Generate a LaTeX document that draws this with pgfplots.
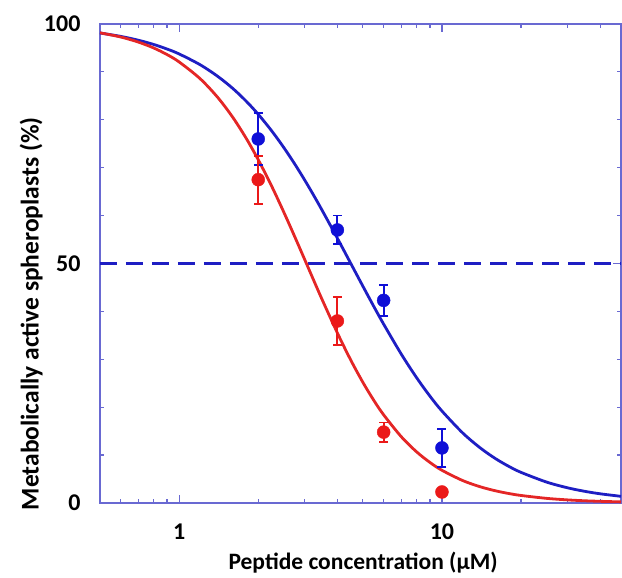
\documentclass[border=0pt]{standalone}
\usepackage{fontspec}
\setmainfont{Carlito}
\usepackage{pgfplots}
\pgfplotsset{compat=1.18}
\definecolor{axblue}{RGB}{105,105,210}
\definecolor{cblue}{RGB}{30,30,195}
\definecolor{cred}{RGB}{228,38,38}
\definecolor{pblue}{RGB}{15,15,215}
\definecolor{pred}{RGB}{235,25,25}
\begin{document}
\begin{tikzpicture}
\useasboundingbox (-100pt,-75pt) rectangle (522pt,503pt);
\begin{axis}[
  at={(0pt,0pt)}, anchor=south west, scale only axis,
  width=521pt, height=479pt,
  xmode=log, xmin=0.5, xmax=48, ymin=0, ymax=100,
  axis line style={axblue, line width=1.6pt},
  xtick={1,10}, xticklabels={1,10},
  minor xtick={0.6,0.7,0.8,0.9,2,3,4,5,6,7,8,9,20,30,40},
  ytick={0,50,100},
  minor ytick={10,20,30,40,60,70,80,90},
  tick style={axblue, line width=1.2pt},
  major tick length=8pt, minor tick length=4pt,
  tick align=inside,
  /pgf/number format/assume math mode=true,
  ticklabel style={font=\fontsize{24}{28}\selectfont\bfseries},
  xticklabel style={yshift=-17pt},
  yticklabel style={xshift=-16pt},
  xlabel={Peptide concentration (µM)},
  ylabel={Metabolically active spheroplasts (\%)},
  xlabel style={at={(axis description cs:0.505,-0.124)}, anchor=center, font=\fontsize{23.5}{27}\selectfont\bfseries},
  ylabel style={at={(axis description cs:-0.132,0.395)}, anchor=center, font=\fontsize{25.5}{29}\selectfont\bfseries},
  clip=false,
]
% 50% reference line
\addplot[cblue, line width=2.6pt, dash pattern=on 17pt off 9pt] coordinates {(0.5,50) (48,50)};
% blue fitted curve
\addplot[cblue, line width=2.8pt, smooth] coordinates {
(0.5,98.12) (0.6,97.41) (0.7,96.61) (0.8,95.73) (0.9,94.77) (1,93.75) (1.2,91.52) (1.4,89.10)
(1.6,86.55) (1.8,83.88) (2,81.15) (2.25,77.69) (2.5,74.23) (2.75,70.82) (3,67.48) (3.25,64.24)
(3.5,61.11) (4,55.28) (4.5,50.00) (5,45.28) (5.5,41.07) (6,37.34) (7,31.10) (8,26.20) (9,22.31)
(10,19.20) (12,14.61) (14,11.48) (16,9.25) (18,7.62) (20,6.39) (25,4.37) (30,3.18) (35,2.43)
(40,1.92) (48,1.39)};
% red fitted curve
\addplot[cred, line width=2.8pt, smooth] coordinates {
(0.5,98.16) (0.6,97.28) (0.7,96.22) (0.8,95.00) (0.9,93.61) (1,92.08) (1.2,88.62) (1.4,84.72)
(1.6,80.52) (1.8,76.13) (2,71.67) (2.25,66.14) (2.5,60.76) (2.75,55.67) (3,50.91) (3.25,46.51)
(3.5,42.48) (4,35.51) (4.5,29.82) (5,25.21) (5.5,21.46) (6,18.41) (7,13.85) (8,10.70) (9,8.47)
(10,6.83) (12,4.68) (14,3.38) (16,2.54) (18,1.97) (20,1.57) (25,0.97) (30,0.65) (35,0.46)
(40,0.35) (48,0.23)};
% blue data
\addplot[only marks, mark=*, mark size=6.5pt, color=pblue,
  error bars/.cd, y dir=both, y explicit,
  error bar style={pblue, line width=1.8pt},
  error mark options={rotate=90, mark size=4.5pt, line width=1.8pt, pblue}]
  coordinates {(2,76) +- (0,5.5) (4,57) +- (0,3) (6,42.3) +- (0,3.2) (10,11.5) +- (0,4)};
% red data
\addplot[only marks, mark=*, mark size=6.5pt, color=pred,
  error bars/.cd, y dir=both, y explicit,
  error bar style={pred, line width=1.8pt},
  error mark options={rotate=90, mark size=4.5pt, line width=1.8pt, pred}]
  coordinates {(2,67.5) +- (0,5) (4,38) +- (0,5) (6,14.8) +- (0,2) (10,2.3) +- (0,0)};
\end{axis}
\end{tikzpicture}
\end{document}
